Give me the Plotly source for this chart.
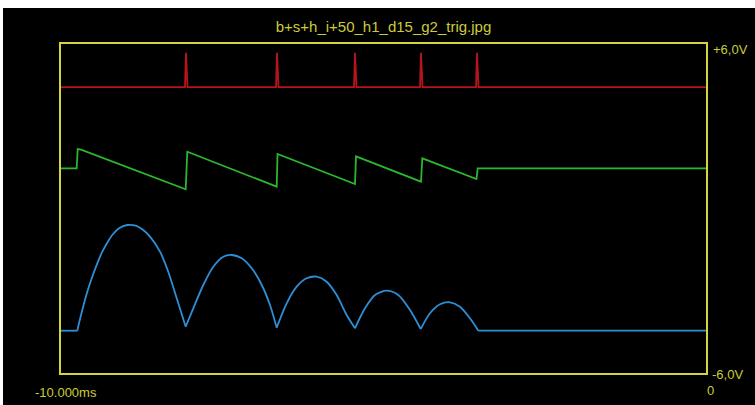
import plotly.graph_objects as go

# ---- data (time in ms, amplitude in V as displayed on the scope screen) ----
title_text = "b+s+h_i+50_h1_d15_g2_trig.jpg"
x_tick_vals = [-10, 0]
x_tick_text = ["-10.000ms", "0"]
y_tick_vals = [6, -6]
y_tick_text = ["+6,0V", "-6,0V"]

trig_t = [-10.0, -8.078, -8.062, -8.039, -6.667, -6.651, -6.628, -5.457, -5.442, -5.419,
          -4.434, -4.419, -4.395, -3.566, -3.550, -3.527, 0.0]
trig_v = [4.43, 4.43, 5.68, 4.43, 4.43, 5.68, 4.43, 4.43, 5.68, 4.43,
          4.43, 5.68, 4.43, 4.43, 5.68, 4.43, 4.43]

saw_t = [-10.0, -9.757, -9.741, -9.690, -8.067, -8.042, -6.656, -6.643, -5.442, -5.426,
         -4.419, -4.398, -3.558, -3.540, 0.0]
saw_v = [1.466, 1.466, 2.170, 2.150, 0.700, 2.071, 0.795, 1.988, 0.894, 1.904,
         0.977, 1.831, 1.076, 1.466, 1.466]

bounce_t = [-10.0, -9.747, -9.721, -9.670, -9.592, -9.515, -9.437, -9.360, -9.282, -9.205,
            -9.101, -8.972, -8.842, -8.740, -8.620, -8.465, -8.336, -8.206, -8.067,
            -7.949, -7.794, -7.639, -7.484, -7.353, -7.198, -7.043, -6.888, -6.760, -6.656,
            -6.501, -6.346, -6.191, -6.036, -5.881, -5.726, -5.571, -5.442,
            -5.287, -5.132, -4.950, -4.771, -4.589, -4.423,
            -4.279, -4.124, -3.969, -3.814, -3.659, -3.530, 0.0]
bounce_v = [-4.457, -4.457, -4.187, -3.702, -3.034, -2.487, -1.999, -1.575, -1.247, -0.966,
            -0.722, -0.602, -0.627, -0.759, -1.028, -1.575, -2.316, -3.275, -4.311,
            -3.640, -2.790, -2.123, -1.758, -1.696, -1.816, -2.181, -2.790, -3.519, -4.347,
            -3.457, -2.852, -2.546, -2.487, -2.670, -3.155, -3.884, -4.369,
            -3.640, -3.155, -2.998, -3.155, -3.702, -4.395,
            -3.822, -3.494, -3.421, -3.581, -4.004, -4.457, -4.457]
# indices in bounce_* where one arc ends and the next begins (cusps)
bounce_breaks = [1, 18, 28, 36, 42, 48]

YELLOW = "#d4d43c"
TEXT_YELLOW = "#cccc3a"
FONT = "Liberation Sans, Arial, sans-serif"

fig = go.Figure()
fig.add_trace(go.Scatter(x=trig_t, y=trig_v, mode="lines",
                         line=dict(color="#b8141c", width=1.8), hoverinfo="skip"))
fig.add_trace(go.Scatter(x=saw_t, y=saw_v, mode="lines",
                         line=dict(color="#2cb62c", width=1.8), hoverinfo="skip"))

BLUE = "#2e8ed6"
# flat parts
fig.add_trace(go.Scatter(x=bounce_t[:bounce_breaks[0] + 1], y=bounce_v[:bounce_breaks[0] + 1],
                         mode="lines", line=dict(color=BLUE, width=1.8), hoverinfo="skip"))
fig.add_trace(go.Scatter(x=bounce_t[bounce_breaks[-1]:], y=bounce_v[bounce_breaks[-1]:],
                         mode="lines", line=dict(color=BLUE, width=1.8), hoverinfo="skip"))
# arcs, each smoothed on its own so the cusps stay sharp
for a, b in zip(bounce_breaks[:-1], bounce_breaks[1:]):
    fig.add_trace(go.Scatter(x=bounce_t[a:b + 1], y=bounce_v[a:b + 1], mode="lines",
                             line=dict(color=BLUE, width=1.8, shape="spline", smoothing=0.8),
                             hoverinfo="skip"))

annos = []
annos.append(dict(x=x_tick_vals[0], xref="x", y=0, yref="paper", text=x_tick_text[0],
                  xanchor="center", yanchor="middle", xshift=5, yshift=-19))
annos.append(dict(x=x_tick_vals[1], xref="x", y=0, yref="paper", text=x_tick_text[1],
                  xanchor="center", yanchor="middle", xshift=4, yshift=-17))
annos.append(dict(x=1, xref="paper", y=y_tick_vals[0], yref="y", text=y_tick_text[0],
                  xanchor="left", yanchor="middle", xshift=7, yshift=-5))
annos.append(dict(x=1, xref="paper", y=y_tick_vals[1], yref="y", text=y_tick_text[1],
                  xanchor="left", yanchor="middle", xshift=6, yshift=-1))
for a in annos:
    a.update(showarrow=False, borderpad=0, borderwidth=0,
             font=dict(family=FONT, size=13, color=TEXT_YELLOW))

# page body keeps an 8px top margin; left margin set to 3px by post_script
W, H = 752, 397
fig.update_layout(
    width=W, height=H,
    margin=dict(l=58, r=49, t=36, b=32),
    paper_bgcolor="black",
    plot_bgcolor="black",
    showlegend=False,
    title=dict(text=title_text, x=0.5, xref="paper", xanchor="center",
               y=1 - 19 / H, yref="container", yanchor="middle",
               font=dict(family=FONT, size=15, color=TEXT_YELLOW)),
    annotations=annos,
    xaxis=dict(range=[-10, 0], showgrid=False, zeroline=False, showticklabels=False,
               ticks="", showline=True, linecolor=YELLOW, linewidth=2, mirror=True,
               fixedrange=True),
    yaxis=dict(range=[-6, 6], showgrid=False, zeroline=False, showticklabels=False,
               ticks="", showline=True, linecolor=YELLOW, linewidth=2, mirror=True,
               fixedrange=True),
)

fig.write_html("out.html", config={"displayModeBar": False},
               post_script="document.body.style.margin='8px 0 0 3px';")
